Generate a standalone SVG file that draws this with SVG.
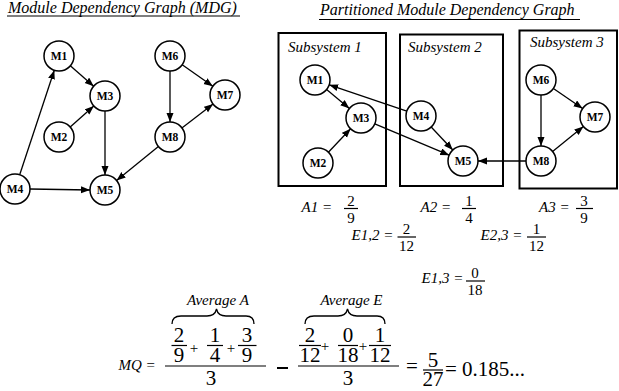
<svg xmlns="http://www.w3.org/2000/svg" width="619" height="391" viewBox="0 0 619 391">
<style>
text{font-family:"Liberation Serif","Times New Roman",serif}
.t{font-style:italic;fill:#000}
.n{fill:#fff;stroke:#000;stroke-width:1.5}
.nl{font-weight:bold;font-size:11.5px;text-anchor:middle;fill:#000}
.e{stroke:#000;stroke-width:1.3;fill:none}
.box{fill:none;stroke:#000;stroke-width:2}
.m{fill:#000}
.fl{stroke:#000;stroke-width:1.2}
.c{text-anchor:middle}
</style>
<defs>
<marker id="ah" markerUnits="userSpaceOnUse" markerWidth="10" markerHeight="8" refX="9" refY="3.5" orient="auto">
<path d="M0,0 L9,3.5 L0,7 z" fill="#000"/>
</marker>
</defs>

<g id="titles">
<text class="t" x="8" y="12.5" font-size="16">Module Dependency Graph (MDG)</text>
<line x1="7" y1="16" x2="240" y2="16" stroke="#000" stroke-width="1.2"/>
<text class="t" x="320" y="15" font-size="16">Partitioned Module Dependency Graph</text>
<line x1="319" y1="19.5" x2="580" y2="19.5" stroke="#000" stroke-width="1.2"/>
</g>

<g id="subsystems">
<g id="sub1"><rect class="box" x="278.5" y="33" width="107.5" height="153"/><text class="t" x="288" y="51.5" font-size="15">Subsystem 1</text></g>
<g id="sub2"><rect class="box" x="400" y="34.5" width="103" height="151.5"/><text class="t" x="408" y="51.5" font-size="15">Subsystem 2</text></g>
<g id="sub3"><rect class="box" x="519.5" y="30.5" width="97.5" height="158"/><text class="t" x="530" y="47" font-size="15">Subsystem 3</text></g>
</g>

<g id="connectors">
<line class="e" x1="70.3" y1="65.8" x2="93.7" y2="86.2" marker-end="url(#ah)"/>
<line class="e" x1="70.2" y1="127" x2="93.8" y2="106" marker-end="url(#ah)"/>
<line class="e" x1="105" y1="111" x2="105" y2="175" marker-end="url(#ah)"/>
<line class="e" x1="19.7" y1="174.8" x2="54.3" y2="70.2" marker-end="url(#ah)"/>
<line class="e" x1="30" y1="189" x2="90" y2="190" marker-end="url(#ah)"/>
<line class="e" x1="182.2" y1="64.7" x2="212.8" y2="86.3" marker-end="url(#ah)"/>
<line class="e" x1="170" y1="71" x2="170" y2="122" marker-end="url(#ah)"/>
<line class="e" x1="181.9" y1="127.9" x2="213.1" y2="104.1" marker-end="url(#ah)"/>
<line class="e" x1="158.4" y1="146.5" x2="116.6" y2="180.5" marker-end="url(#ah)"/>
<line class="e" x1="326.6" y1="89.6" x2="349.4" y2="108.4" marker-end="url(#ah)"/>
<line class="e" x1="328.4" y1="152.2" x2="350.6" y2="128.8" marker-end="url(#ah)"/>
<line class="e" x1="406.8" y1="111.2" x2="329.2" y2="84.8" marker-end="url(#ah)"/>
<line class="e" x1="374.8" y1="123.8" x2="449.2" y2="155.2" marker-end="url(#ah)"/>
<line class="e" x1="431.2" y1="127" x2="452.8" y2="150" marker-end="url(#ah)"/>
<line class="e" x1="526" y1="161" x2="478" y2="161" marker-end="url(#ah)"/>
<line class="e" x1="541" y1="95" x2="541" y2="146" marker-end="url(#ah)"/>
<line class="e" x1="553.4" y1="88.5" x2="582.6" y2="108.5" marker-end="url(#ah)"/>
<line class="e" x1="552.6" y1="151.5" x2="583.4" y2="126.5" marker-end="url(#ah)"/>
</g>

<g id="left-graph">
<g id="L-M1"><circle class="n" cx="59" cy="56" r="15"/><text class="nl" x="59" y="60">M1</text></g>
<g id="L-M2"><circle class="n" cx="59" cy="137" r="15"/><text class="nl" x="59" y="141">M2</text></g>
<g id="L-M3"><circle class="n" cx="105" cy="96" r="15"/><text class="nl" x="105" y="100">M3</text></g>
<g id="L-M4"><circle class="n" cx="15" cy="189" r="15"/><text class="nl" x="15" y="193">M4</text></g>
<g id="L-M5"><circle class="n" cx="105" cy="190" r="15"/><text class="nl" x="105" y="194">M5</text></g>
<g id="L-M6"><circle class="n" cx="170" cy="56" r="15"/><text class="nl" x="170" y="60">M6</text></g>
<g id="L-M7"><circle class="n" cx="225" cy="95" r="15"/><text class="nl" x="225" y="99">M7</text></g>
<g id="L-M8"><circle class="n" cx="170" cy="137" r="15"/><text class="nl" x="170" y="141">M8</text></g>
</g>

<g id="right-graph">
<g id="R-M1"><circle class="n" cx="315" cy="80" r="15"/><text class="nl" x="315" y="84">M1</text></g>
<g id="R-M2"><circle class="n" cx="318" cy="163" r="15"/><text class="nl" x="318" y="167">M2</text></g>
<g id="R-M3"><circle class="n" cx="361" cy="118" r="15"/><text class="nl" x="361" y="122">M3</text></g>
<g id="R-M4"><circle class="n" cx="421" cy="116" r="15"/><text class="nl" x="421" y="120">M4</text></g>
<g id="R-M5"><circle class="n" cx="463" cy="161" r="15"/><text class="nl" x="463" y="165">M5</text></g>
<g id="R-M6"><circle class="n" cx="541" cy="80" r="15"/><text class="nl" x="541" y="84">M6</text></g>
<g id="R-M7"><circle class="n" cx="595" cy="117" r="15"/><text class="nl" x="595" y="121">M7</text></g>
<g id="R-M8"><circle class="n" cx="541" cy="161" r="15"/><text class="nl" x="541" y="165">M8</text></g>
</g>

<g id="formulas" font-size="15">
<g id="A1"><text class="t" x="301.5" y="211.5">A1 =</text>
<text class="m c" x="351" y="205.5">2</text><line class="fl" x1="344" y1="208.5" x2="358" y2="208.5"/><text class="m c" x="351" y="222.5">9</text></g>
<g id="A2"><text class="t" x="420.5" y="211.5">A2 =</text>
<text class="m c" x="469" y="205.5">1</text><line class="fl" x1="462" y1="208.5" x2="476" y2="208.5"/><text class="m c" x="469" y="222.5">4</text></g>
<g id="A3"><text class="t" x="539" y="211.5">A3 =</text>
<text class="m c" x="584" y="205.5">3</text><line class="fl" x1="576" y1="208.5" x2="593" y2="208.5"/><text class="m c" x="584" y="222.5">9</text></g>
<g id="E12"><text class="t" x="351.5" y="239.5">E1,2 =</text>
<text class="m c" x="406.5" y="234">2</text><line class="fl" x1="397.5" y1="237" x2="416" y2="237"/><text class="m c" x="406.5" y="250.5">12</text></g>
<g id="E23"><text class="t" x="480.5" y="239.5">E2,3 =</text>
<text class="m c" x="536.5" y="234">1</text><line class="fl" x1="527" y1="237" x2="546" y2="237"/><text class="m c" x="536.5" y="250.5">12</text></g>
<g id="E13"><text class="t" x="421.5" y="283">E1,3 =</text>
<text class="m c" x="475" y="278">0</text><line class="fl" x1="466" y1="281" x2="485" y2="281"/><text class="m c" x="475" y="295">18</text></g>
</g>

<g id="mq">
<text class="t" x="118.5" y="370" font-size="15">MQ =</text>
<text class="t c" x="218" y="305" font-size="15">Average A</text>
<path class="e" d="M172,324 Q172,316 181,316 L207,316 Q215,316 216.5,309 Q218,316 226,316 L246,316 Q254,316 254,324"/>
<g font-size="21" class="m c">
<text x="179" y="342">2</text><text x="179" y="362">9</text>
<text x="215" y="342">1</text><text x="215" y="362">4</text>
<text x="247" y="342">3</text><text x="247" y="362">9</text>
<text x="211" y="385">3</text>
</g>
<g font-size="15" class="m c"><text x="194" y="353">+</text><text x="231" y="353">+</text></g>
<line class="fl" x1="171.5" y1="345.5" x2="187" y2="345.5"/>
<line class="fl" x1="207" y1="345.5" x2="223" y2="345.5"/>
<line class="fl" x1="238" y1="345.5" x2="256.5" y2="345.5"/>
<line class="fl" x1="165" y1="366" x2="266" y2="366"/>
<line x1="277" y1="368" x2="288" y2="368" stroke="#000" stroke-width="2"/>
<text class="t c" x="351.5" y="305" font-size="15">Average E</text>
<path class="e" d="M305,324 Q305,316 314,316 L338,316 Q346,316 347.5,309 Q349,316 357,316 L377,316 Q385,316 385,324"/>
<g font-size="21" class="m c">
<text x="310" y="342">2</text><text x="310" y="362">12</text>
<text x="348" y="342">0</text><text x="348" y="362">18</text>
<text x="380" y="342">1</text><text x="380" y="362">12</text>
<text x="348" y="385">3</text>
</g>
<g font-size="15" class="m c"><text x="325" y="351">+</text><text x="363" y="351">+</text></g>
<line class="fl" x1="299" y1="345.5" x2="321" y2="345.5"/>
<line class="fl" x1="338" y1="345.5" x2="358" y2="345.5"/>
<line class="fl" x1="369" y1="345.5" x2="391" y2="345.5"/>
<line class="fl" x1="298" y1="366" x2="399" y2="366"/>
<text class="m" x="406" y="373" font-size="21">=</text>
<text class="m c" x="433" y="367" font-size="21">5</text>
<line class="fl" x1="423" y1="370" x2="443" y2="370"/>
<text class="m c" x="433" y="386" font-size="21">27</text>
<text class="m" x="445" y="376" font-size="21">= 0.185...</text>
</g>
</svg>
